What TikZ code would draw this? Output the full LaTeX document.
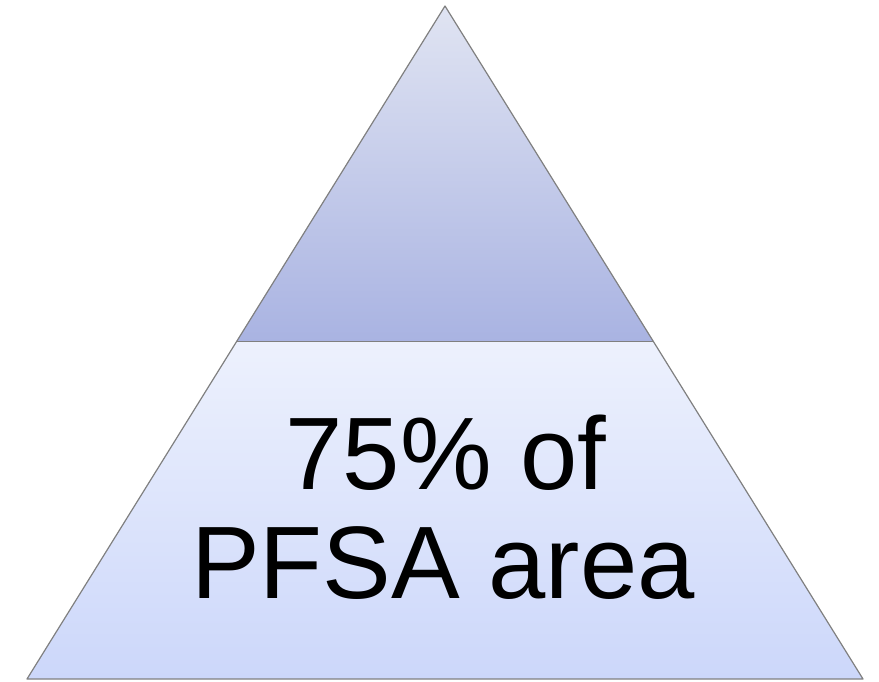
\documentclass[tikz,border=0pt]{standalone}
\usepackage{fontspec}
\setmainfont{Liberation Sans}
\usepackage{tikz}
\usepackage{xcolor}

\definecolor{tiptop}{HTML}{E0E4F2}
\definecolor{tipbottom}{HTML}{A9B3E2}
\definecolor{basetop}{HTML}{EDF1FD}
\definecolor{basebottom}{HTML}{CCD7FA}
\definecolor{rim}{HTML}{808080}

\begin{document}
\begin{tikzpicture}[x=1pt,y=1pt]
        \useasboundingbox (0,0) rectangle (879,681);
        \coordinate (apex) at (445,675);
        \coordinate (left) at (27,2);
        \coordinate (right) at (863,2);
        \coordinate (midleft) at (236,339);
        \coordinate (midright) at (654,339);
        \shade[top color=tiptop,bottom color=tipbottom] (apex) -- (midleft) -- (midright) -- cycle;
        \shade[top color=basetop,bottom color=basebottom] (midleft) -- (left) -- (right) -- (midright) -- cycle;
        \draw[rim,line width=1.2pt,line join=round] (apex) -- (left) -- (right) -- cycle;
        \draw[rim,line width=1pt] (midleft) -- (midright);
        \node[anchor=base,inner sep=0pt,font=\fontsize{103}{108}\selectfont] (share) at (446,191) {75\% of};
        \node[anchor=base,inner sep=0pt,font=\fontsize{103}{108}\selectfont] (area) at (443,83) {PFSA area};
    \end{tikzpicture}
\end{document}
